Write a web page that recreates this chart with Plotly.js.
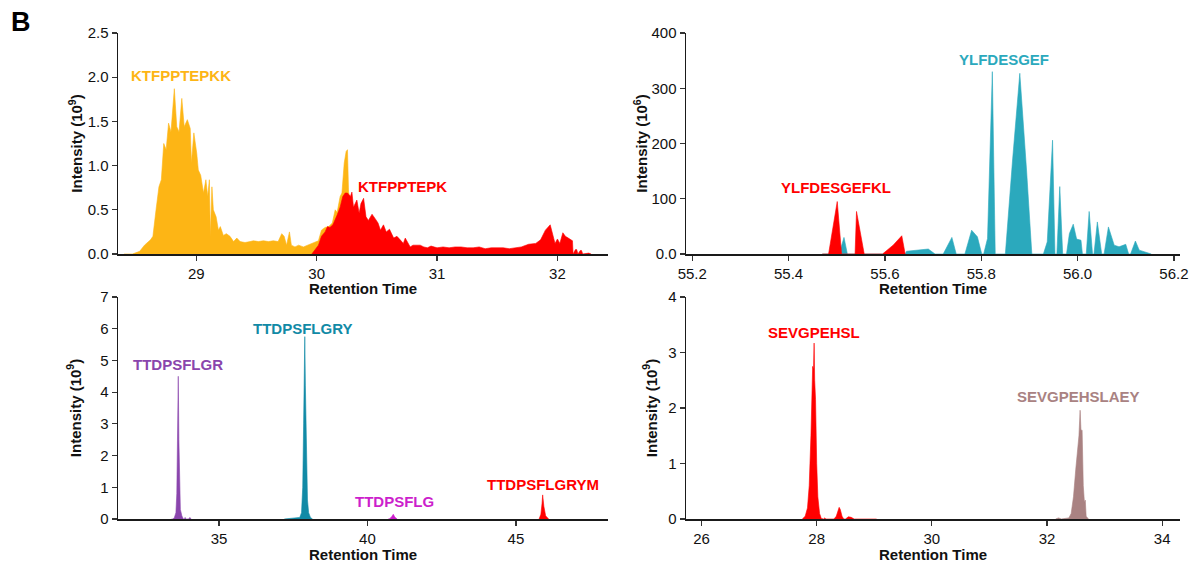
<!DOCTYPE html>
<html><head><meta charset="utf-8">
<script src="https://cdn.plot.ly/plotly-3.0.1.min.js"></script>
<style>html,body{margin:0;padding:0;background:#fff;}#chart{width:1193px;height:563px;}</style>
</head><body><div id="chart"></div>
<script>
// ---------- DATA ----------
// Panel A: KTFPPTEPKK / KTFPPTEPK  (intensity 10^9)
const ktfpptepkkX = [28.40,28.47,28.53,28.57,28.62,28.64,28.666,28.69,28.71,28.73,28.75,28.77,28.79,28.818,28.838,28.857,28.88,28.90,28.926,28.95,28.96,28.98,29.004,29.017,29.037,29.06,29.08,29.095,29.109,29.117,29.13,29.142,29.165,29.184,29.20,29.225,29.25,29.28,29.31,29.337,29.364,29.405,29.447,29.475,29.516,29.558,29.60,29.64,29.68,29.71,29.73,29.75,29.774,29.79,29.82,29.85,29.89,29.93,29.97,30.015,30.04,30.07,30.10,30.13,30.154,30.17,30.195,30.21,30.229,30.245,30.256,30.265,30.30,30.35,30.40,30.45];
const ktfpptepkkY = [0,0,0.03,0.10,0.16,0.20,0.50,0.76,0.84,1.25,1.18,1.48,1.38,1.87,1.44,1.38,1.76,1.44,1.52,1.42,1.03,1.37,1.14,0.95,0.89,0.69,0.84,0.65,0.84,0.20,0.76,0.50,0.42,0.27,0.31,0.21,0.23,0.20,0.14,0.18,0.14,0.13,0.14,0.15,0.14,0.15,0.14,0.15,0.14,0.23,0.20,0.10,0.25,0.10,0.08,0.10,0.08,0.10,0.12,0.15,0.27,0.30,0.31,0.35,0.50,0.47,0.65,0.69,1.03,1.16,1.18,0.70,0.50,0.30,0.10,0];
const ktfpptepkX = [29.96,29.987,30.015,30.04,30.07,30.09,30.11,30.135,30.154,30.17,30.195,30.217,30.237,30.256,30.28,30.293,30.306,30.334,30.353,30.368,30.39,30.41,30.43,30.46,30.486,30.51,30.53,30.555,30.578,30.605,30.64,30.667,30.694,30.72,30.736,30.777,30.80,30.83,30.86,30.89,30.92,30.95,31.0,31.05,31.1,31.15,31.2,31.25,31.3,31.35,31.4,31.45,31.5,31.55,31.6,31.65,31.7,31.76,31.82,31.86,31.90,31.94,31.96,31.98,32.0,32.02,32.045,32.066,32.09,32.11,32.125,32.13,32.15,32.16,32.17,32.19,32.20,32.21,32.24,32.26,32.28];
const ktfpptepkY = [0,0.045,0.10,0.20,0.25,0.31,0.30,0.33,0.38,0.44,0.53,0.65,0.69,0.69,0.65,0.70,0.53,0.61,0.46,0.57,0.63,0.42,0.38,0.45,0.40,0.35,0.27,0.33,0.25,0.28,0.18,0.20,0.16,0.12,0.18,0.08,0.10,0.10,0.10,0.08,0.07,0.09,0.07,0.08,0.07,0.08,0.08,0.07,0.07,0.08,0.06,0.07,0.07,0.07,0.06,0.07,0.08,0.11,0.12,0.16,0.27,0.33,0.21,0.12,0.17,0.12,0.24,0.20,0.18,0.16,0.15,0,0.05,0.05,0,0.04,0.04,0,0.01,0.01,0];

// Panel B: YLFDESGEF / YLFDESGEFKL  (intensity 10^6)
const ylfdesgefX = [55.47,55.505,55.515,55.522,55.642,55.645,55.69,55.704,55.721,55.739,55.748,55.766,55.78,55.792,55.801,55.805,55.813,55.823,55.829,55.85,55.865,55.88,55.894,55.905,55.929,55.937,55.948,55.953,55.957,55.963,55.969,55.977,55.983,55.991,55.998,56.007,56.01,56.018,56.024,56.031,56.034,56.041,56.05,56.055,56.064,56.076,56.086,56.10,56.106,56.11,56.12,56.128,56.153];
const ylfdesgefY = [0,0,30,0,0,5,9,0,0,30,0,0,43,31,0,0,28,330,0,0,170,327,152,0,0,22,206,0,0,122,0,0,37,54,27,25,0,0,77,0,0,58,0,0,49,16,13,17.5,0,0,23.5,7,0];
const ylfdesgefklX = [55.47,55.483,55.501,55.51,55.538,55.541,55.557,55.595,55.617,55.635,55.642];
const ylfdesgefklY = [0,0,95,0,0,77,0,0,16,33,0];

// Panel C: TTDPSFLG* (intensity 10^9)
const ttdpsflgrX = [33.40,33.45,33.50,33.55,33.58,33.60,33.62,33.63,33.65,33.67,33.70,33.75,33.80,33.84,33.86,33.88,33.98,34.02,34.06];
const ttdpsflgrY = [0,0,0.05,0.2,0.8,2.0,3.8,4.5,2.5,1.0,0.3,0.1,0,0,0.05,0,0,0.05,0];
const ttdpsflgryX = [37.2,37.3,37.5,37.6,37.72,37.78,37.82,37.85,37.87,37.89,37.91,37.93,37.95,37.98,38.02,38.08,38.15];
const ttdpsflgryY = [0,0.01,0.02,0.03,0.05,0.2,1.0,3.0,5.0,5.75,4.2,3.3,1.5,0.6,0.2,0.05,0];
const ttdpsflgX = [40.7,40.75,40.82,40.87,40.92,41.0];
const ttdpsflgY = [0,0.01,0.08,0.15,0.06,0];
const ttdpsflgrymX = [45.78,45.84,45.88,45.9,45.94,46.0,46.1];
const ttdpsflgrymY = [0,0.15,0.5,0.76,0.4,0.1,0];

// Panel D: SEVGPEHSL* (intensity 10^9)
const sevgpehslX = [27.75,27.80,27.84,27.87,27.90,27.92,27.93,27.945,27.955,27.965,27.98,28.00,28.02,28.05,28.08,28.12,28.14,28.16,28.3,28.34,28.37,28.39,28.41,28.44,28.47,28.5,28.55,28.6,28.65,29.0,29.02,29.04];
const sevgpehslY = [0,0.05,0.2,0.6,1.5,2.4,2.75,2.7,3.17,2.5,2.15,1.0,0.4,0.1,0.01,0,0.02,0,0,0.05,0.15,0.21,0.17,0.05,0,0,0.04,0.03,0,0,0.01,0];
const sevgpehslaeyX = [32.15,32.2,32.25,32.38,32.42,32.46,32.50,32.53,32.555,32.575,32.59,32.61,32.63,32.65,32.665,32.68,32.72];
const sevgpehslaeyY = [0,0.02,0,0.02,0.1,0.4,0.9,1.21,1.5,1.96,1.6,1.6,0.6,0.3,0.34,0.05,0];

// Tick labels
const xTicks1 = [29,30,31,32];
const xTicks2 = [55.2,55.4,55.6,55.8,56.0,56.2];
const xTicks3 = [35,40,45];
const xTicks4 = [26,28,30,32,34];
const yTicks1 = [0,0.5,1.0,1.5,2.0,2.5];
const yTicks2 = [0,100,200,300,400];
const yTicks2Text = ['0.0','100','200','300','400'];
const yTicks3 = [0,1,2,3,4,5,6,7];
const yTicks4 = [0,1,2,3,4];

// ---------- STYLE / LAYOUT ----------
const W = 1193, H = 563;
const C = {orange:'#FDB515', red:'#FF0000', teal:'#2BA9BD', purple:'#8A45AD', blue:'#118AA6', magenta:'#CC1FCC', brown:'#A98282'};
const FONT = 'Arial, "Liberation Sans", sans-serif';

function area(x, y, color, xa, ya) {
  return {type:'scatter', mode:'lines', x:x, y:y, xaxis:xa, yaxis:ya,
          fill:'tozeroy', fillcolor:color, line:{color:color, width:0.6, shape:'linear'},
          hoverinfo:'skip', showlegend:false};
}

const data = [
  area(ktfpptepkkX, ktfpptepkkY, C.orange, 'x', 'y'),
  area(ktfpptepkX, ktfpptepkY, C.red, 'x', 'y'),
  area(ylfdesgefX, ylfdesgefY, C.teal, 'x2', 'y2'),
  area(ylfdesgefklX, ylfdesgefklY, C.red, 'x2', 'y2'),
  area(ttdpsflgrX, ttdpsflgrY, C.purple, 'x3', 'y3'),
  area(ttdpsflgryX, ttdpsflgryY, C.blue, 'x3', 'y3'),
  area(ttdpsflgX, ttdpsflgY, C.magenta, 'x3', 'y3'),
  area(ttdpsflgrymX, ttdpsflgrymY, C.red, 'x3', 'y3'),
  area(sevgpehslX, sevgpehslY, C.red, 'x4', 'y4'),
  area(sevgpehslaeyX, sevgpehslaeyY, C.brown, 'x4', 'y4')
];

const axBase = {showgrid:false, zeroline:false, showline:true, linecolor:'#1a1a1a', linewidth:1.5,
  ticks:'outside', ticklen:5, tickwidth:1.2, tickcolor:'#333', tickfont:{size:15, color:'#111', family:FONT},
  fixedrange:true, automargin:false};
const titleFont = {size:15, color:'#111', family:FONT};
function xax(dom, range, tv, tt, anchor) {
  return Object.assign({}, axBase, {domain:[dom[0]/W, dom[1]/W], range:range, anchor:anchor,
    tickmode:'array', tickvals:tv, ticktext:tt});
}
function yax(dom, range, tv, tt, anchor, exp, standoff) {
  return Object.assign({}, axBase, {domain:[1-dom[1]/H, 1-dom[0]/H], range:range, anchor:anchor,
    tickmode:'array', tickvals:tv, ticktext:tt,
    title:{text:'<b>Intensity (10<sup>' + exp + '</sup>)</b>', font:titleFont, standoff:standoff}});
}
const colL = [118, 608], colR = [686, 1180], rowT = [33, 254], rowB = [297, 519];

function label(txt, px, py, color) {
  return {xref:'paper', yref:'paper', x:px/W, y:1-py/H, xanchor:'center', yanchor:'middle',
    text:'<b>' + txt + '</b>', showarrow:false, font:{size:15, color:color, family:FONT}};
}
function xTitle(dom, py) {
  return {xref:'paper', yref:'paper', x:(dom[0]+dom[1])/2/W, y:1-py/H, xanchor:'center', yanchor:'middle',
    text:'<b>Retention Time</b>', showarrow:false, font:titleFont, borderpad:0};
}

const layout = {
  width:W, height:H, margin:{l:0, r:0, t:0, b:0}, paper_bgcolor:'#fff', plot_bgcolor:'rgba(0,0,0,0)',
  font:{family:FONT, color:'#111'}, showlegend:false,
  xaxis: xax(colL, [28.35, 32.42], xTicks1, xTicks1.map(String), 'y'),
  yaxis: yax(rowT, [0, 2.5], yTicks1, yTicks1.map(v => v.toFixed(1)), 'x', 9, 1),
  xaxis2: xax(colR, [55.187, 56.2126], xTicks2, xTicks2.map(v => v.toFixed(1)), 'y2'),
  yaxis2: yax(rowT, [0, 400], yTicks2, yTicks2Text, 'x2', 6, 0),
  xaxis3: xax(colL, [31.6, 48.1], xTicks3, xTicks3.map(String), 'y3'),
  yaxis3: yax(rowB, [0, 7], yTicks3, yTicks3.map(String), 'x3', 9, 15),
  xaxis4: xax(colR, [25.73, 34.31], xTicks4, xTicks4.map(String), 'y4'),
  yaxis4: yax(rowB, [0, 4], yTicks4, yTicks4.map(String), 'x4', 9, 7),
  annotations: [
    {xref:'paper', yref:'paper', x:21/W, y:1-22/H, xanchor:'center', yanchor:'middle', text:'<b>B</b>', showarrow:false, font:{size:27, color:'#000', family:FONT}},
    xTitle(colL, 288), xTitle(colR, 288), xTitle(colL, 554), xTitle(colR, 554),
    label('KTFPPTEPKK', 181, 76, C.orange),
    label('KTFPPTEPK', 402, 186, C.red),
    label('YLFDESGEFKL', 836, 187, C.red),
    label('YLFDESGEF', 1004, 59, C.teal),
    label('TTDPSFLGR', 178, 364, C.purple),
    label('TTDPSFLGRY', 302, 328, C.blue),
    label('TTDPSFLG', 394, 501, C.magenta),
    label('TTDPSFLGRYM', 543, 484, C.red),
    label('SEVGPEHSL', 814, 332, C.red),
    label('SEVGPEHSLAEY', 1078, 396, C.brown)
  ]
};

Plotly.newPlot('chart', data, layout, {staticPlot:true, displayModeBar:false});
</script>
</body></html>
